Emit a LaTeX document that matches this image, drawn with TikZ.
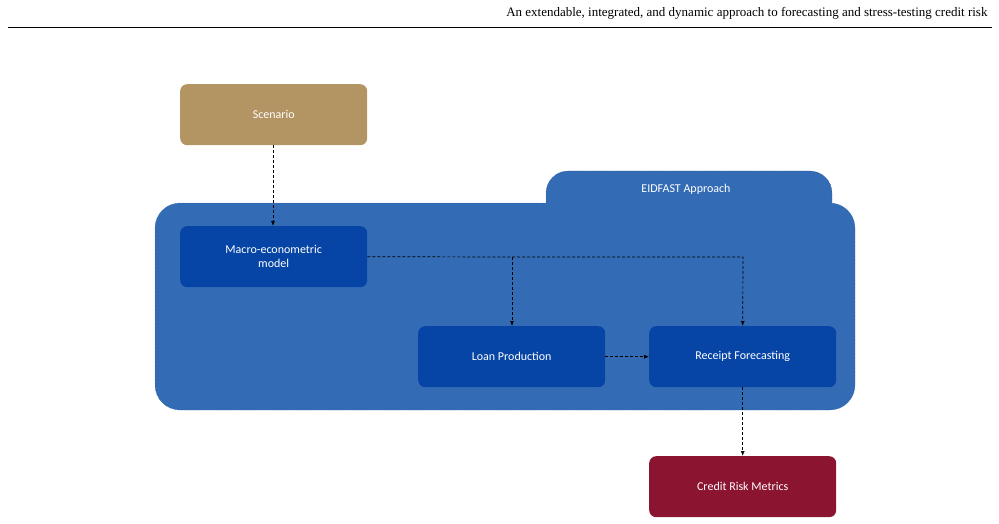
\documentclass[tikz,border=0pt]{standalone}
\usepackage{fontspec}
\setmainfont{Carlito}
\newfontfamily\hdr{Liberation Serif}
\usetikzlibrary{arrows.meta}
\definecolor{scen}{HTML}{B39463}
\definecolor{cont}{HTML}{336BB5}
\definecolor{contb}{HTML}{1F4F8F}
\definecolor{boxc}{HTML}{0645A6}
\definecolor{crm}{HTML}{8B1530}
\begin{document}
\begin{tikzpicture}[x=1pt,y=-1pt,
  blk/.style={draw=none,rounded corners=7pt,minimum width=187pt,minimum height=61pt,text=white,font=\fontsize{12}{14}\selectfont,align=center,anchor=north west,inner sep=2pt},
  conn/.style={densely dashed,-{Latex[length=5pt,width=4pt]},line width=0.7pt}]
\useasboundingbox (0,0) rectangle (999,524);
\node[anchor=east,font=\hdr\fontsize{13}{15}\selectfont] (hd) at (991,13) {An extendable, integrated, and dynamic approach to forecasting and stress-testing credit risk};
\draw[line width=0.6pt] (8,27) -- (992,27);
% tab
\draw[fill=cont,draw=contb,densely dotted,rounded corners=22pt] (546,210) -- (546,171) -- (832,171) -- (832,210);
\node[text=white,font=\fontsize{12}{14}\selectfont] (tab) at (686,189) {EIDFAST Approach};
% container
\draw[fill=cont,draw=contb,densely dotted,rounded corners=25pt] (155,203) rectangle (855,410);
\fill[cont] (547,198) rectangle (831,206);
\node[blk,fill=scen] (sc) at (180,84) {Scenario};
\node[blk,fill=boxc] (mm) at (180,226) {Macro-econometric\\model};
\node[blk,fill=boxc] (lp) at (418,326) {Loan Production};
\node[blk,fill=boxc] (rf) at (649,326) {Receipt Forecasting};
\node[blk,fill=crm] (cr) at (649,456) {Credit Risk Metrics};
\coordinate (j1) at (512,257);
\coordinate (j2) at (743,257);
\draw[conn] (273,145) -- (273,226);
\draw[densely dashed,line width=0.7pt] (mm.east) -- (j1);
\draw[conn] (j1) -- (lp.north -| j1) ;
\draw[conn] (j1) -- (j2) -- (rf.north);
\draw[conn] (lp.east) -- (rf.west);
\draw[conn] (rf.south) -- (cr.north);
\end{tikzpicture}
\end{document}
